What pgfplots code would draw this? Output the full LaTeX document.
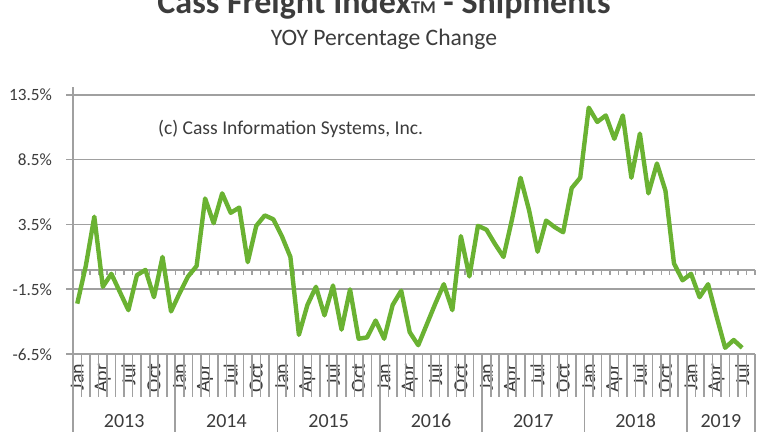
\documentclass[border=0pt]{standalone}
\usepackage{pgfplots}
\pgfplotsset{compat=1.18}
\usepackage{fontspec}
\setmainfont{Carlito}

\definecolor{cassgreen}{RGB}{106,178,50}
\definecolor{gridgray}{RGB}{160,160,160}
\definecolor{txt}{RGB}{60,60,60}

% month index 0 = Jan 2013, 78 = Jul 2019
\pgfplotstableread{
m v
0 -2.6
1 0.3
2 4.1
3 -1.3
4 -0.3
5 -1.7
6 -3.1
7 -0.4
8 0.0
9 -2.1
10 1.0
11 -3.2
12 -1.8
13 -0.5
14 0.3
15 5.5
16 3.6
17 5.9
18 4.4
19 4.8
20 0.6
21 3.4
22 4.2
23 3.9
24 2.6
25 1.0
26 -5.0
27 -2.7
28 -1.3
29 -3.5
30 -1.2
31 -4.6
32 -1.5
33 -5.3
34 -5.2
35 -3.9
36 -5.3
37 -2.7
38 -1.6
39 -4.8
40 -5.8
41 -4.2
42 -2.6
43 -1.1
44 -3.1
45 2.6
46 -0.5
47 3.4
48 3.1
49 2.0
50 1.0
51 3.9
52 7.1
53 4.6
54 1.4
55 3.8
56 3.3
57 2.9
58 6.3
59 7.1
60 12.5
61 11.4
62 11.9
63 10.1
64 11.9
65 7.1
66 10.5
67 5.9
68 8.2
69 6.1
70 0.5
71 -0.8
72 -0.3
73 -2.1
74 -1.1
75 -3.6
76 -6.0
77 -5.4
78 -6.0
}\shipments

\begin{document}
\begin{tikzpicture}
\begin{axis}[
  scale only axis, width=341pt, height=133.7pt,
  xmin=-0.5, xmax=79.5, ymin=-6.5, ymax=14.1,
  clip=false,
  axis x line*=bottom, axis y line*=left,
  axis line style={gridgray, line width=0.9pt},
  major tick length=0pt,
  ytick={-6.5,-1.5,3.5,8.5,13.5},
  ymajorgrids, grid style={gridgray, line width=0.9pt},
  /pgf/number format/assume math mode=true,
  yticklabel={\pgfmathprintnumber[fixed,fixed zerofill,precision=1]{\tick}\%},
  yticklabel style={font=\fontsize{8.6}{10}\selectfont, text=txt, xshift=-7pt},
  xtick={0,3,...,78},
  xticklabels={Jan,Apr,Jul,Oct,Jan,Apr,Jul,Oct,Jan,Apr,Jul,Oct,Jan,Apr,Jul,Oct,
    Jan,Apr,Jul,Oct,Jan,Apr,Jul,Oct,Jan,Apr,Jul},
  xticklabel style={font=\fontsize{10}{11}\selectfont, text=txt, rotate=90,
    anchor=east, inner xsep=4.5pt},
]
\coordinate (O) at (axis cs:-0.5,-6.5);
% y tick stubs
\pgfplotsinvokeforeach{-6.5,-1.5,3.5,8.5,13.5}{
  \draw[gridgray, line width=0.9pt] (axis cs:-0.5,#1) -- ++(-3.5pt,0pt);
}
% zero axis with small month ticks
\draw[gridgray, line width=0.9pt] (axis cs:-0.5,0) -- (axis cs:79.5,0);
\pgfplotsinvokeforeach{-0.5,0.5,...,79.5}{
  \draw[gridgray, line width=0.7pt] (axis cs:#1,0) -- ++(0pt,-2.5pt);
}
% month separators below the axis
\pgfplotsinvokeforeach{-0.5,0.5,...,79.5}{
  \draw[gridgray, line width=0.8pt] (axis cs:#1,-6.5) -- ++(0pt,-21.5pt);
}
% year separators
\pgfplotsinvokeforeach{-0.5,11.5,23.5,35.5,47.5,59.5,71.5,79.5}{
  \draw[gridgray, line width=0.8pt] (axis cs:#1,-6.5) -- ++(0pt,-40pt);
}
\addplot[cassgreen, line width=2.2pt, line join=round, no marks] table[x=m, y=v] {\shipments};

\foreach \c/\y in {5.5/2013, 17.5/2014, 29.5/2015, 41.5/2016, 53.5/2017, 65.5/2018, 75.5/2019}{
  \edef\tmp{\noexpand\node[anchor=base, text=txt, font=\noexpand\fontsize{10}{12}\noexpand\selectfont, yshift=-36.6pt] at (axis cs:\c,-6.5) {\y};}
  \tmp
}
\end{axis}

% everything else in image pixels (y up), with the axis corner at (73, 77.7)
\begin{scope}[shift={(O)}, x=0.5pt, y=0.5pt, shift={(-73,-77.7)}]
\node[anchor=base, text=txt, font=\fontsize{17}{20}\selectfont\bfseries]
  at (384,418) {Cass Freight Index{\fontsize{9}{10}\selectfont TM} - Shipments};
\node[anchor=base, text=txt, font=\fontsize{11.8}{14}\selectfont]
  at (384,386) {YOY Percentage Change};
\node[anchor=base west, text=txt, font=\fontsize{9.8}{12}\selectfont]
  at (151,297) {(c) Cass Information Systems, Inc.};
\end{scope}

\pgfresetboundingbox
\path[shift={(O)}, x=0.5pt, y=0.5pt] (-73,-77.7) rectangle (695,354.3);
\end{tikzpicture}
\end{document}
